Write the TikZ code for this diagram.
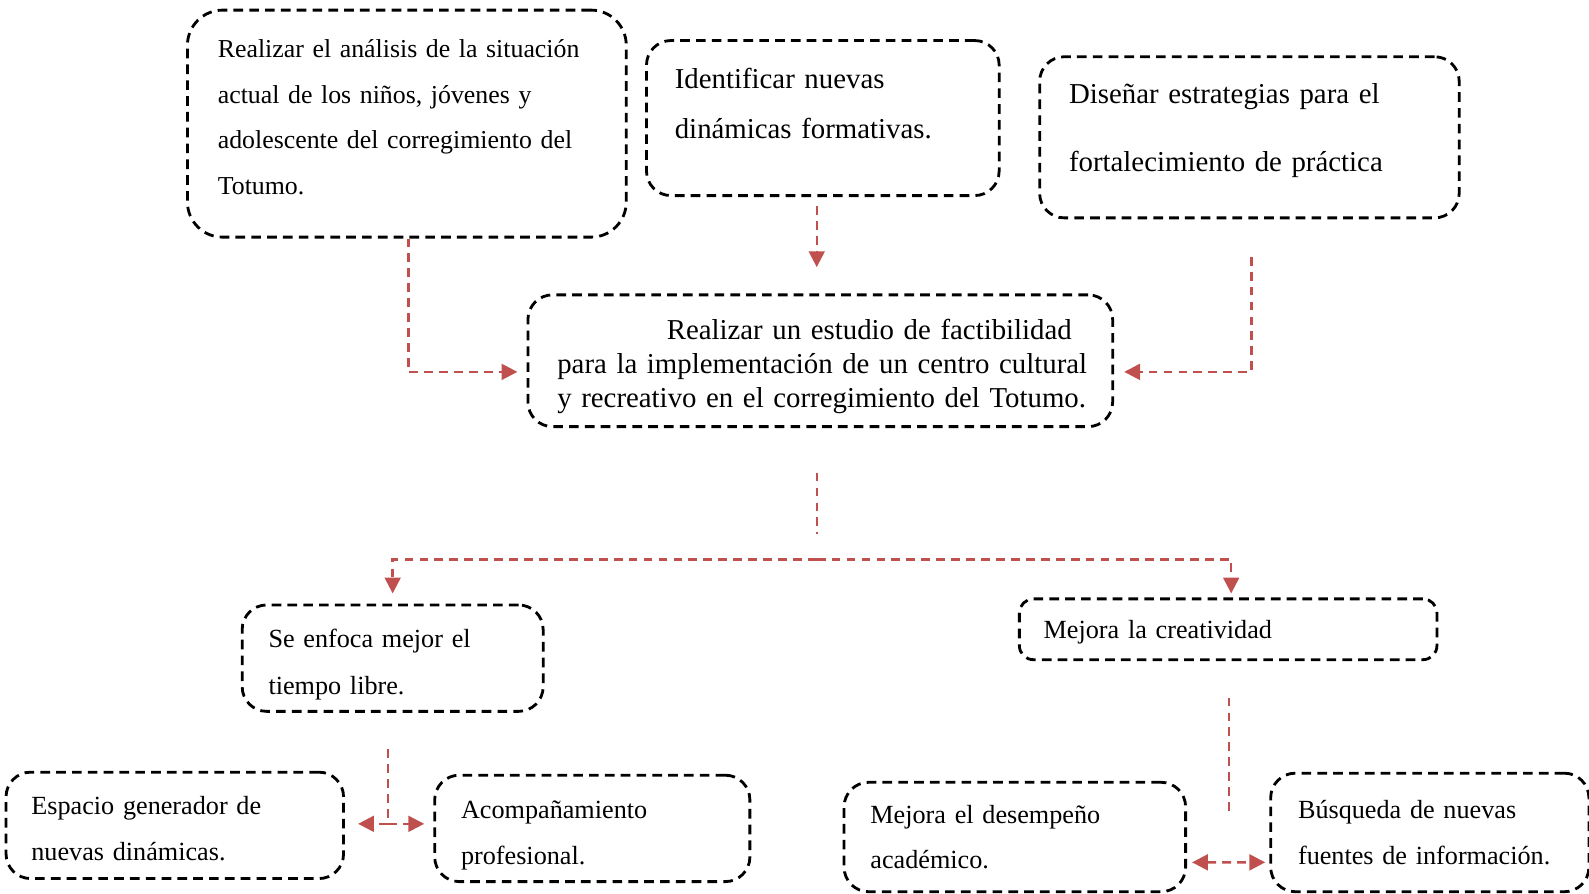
\documentclass[tikz,border=0pt]{standalone}
\usepackage{fontspec}
\setmainfont{Liberation Serif}
\usetikzlibrary{arrows.meta,calc}
\definecolor{rojo}{HTML}{C0504D}

\begin{document}
\begin{tikzpicture}[x=0.020266cm,y=-0.020266cm]
	\tikzstyle{caja}=[draw,line width=1.6pt,dash pattern=on 5.5pt off 3.5pt,rounded corners=14pt,align=left,inner ysep=0pt,font=\fontsize{14.9pt}{25.9pt}\selectfont]
	\tikzstyle{grande}=[font=\fontsize{16.4pt}{28.3pt}\selectfont]
	\tikzstyle{enlace}=[draw=rojo,line width=1.4pt,dash pattern=on 5pt off 3.5pt]
	\tikzstyle{punta}=[-{Triangle[length=9pt,width=9pt,fill=rojo]}]
	\useasboundingbox (0,0) rectangle (1568.1,881.3);
	
	% objetivos especificos
	\node [caja,font=\fontsize{14.7pt}{25.9pt}\selectfont,rounded corners=20pt,text width=7.559cm,inner xsep=0.608cm,minimum height=4.54cm] (analisis) at (401.5,122)
	{Realizar el análisis de la situación\\actual de los niños, jóvenes y\\adolescente del corregimiento del\\Totumo.\\[-18.4pt]\mbox{}};
	\node [caja,grande,text width=5.919cm,inner xsep=0.567cm,minimum height=3.101cm] (dinamicas) at (812,116.5)
	{Identificar nuevas\\dinámicas formativas.\\[-11.3pt]\mbox{}};
	\node [caja,font=\fontsize{16.4pt}{38.6pt}\selectfont,text width=7.214cm,inner xsep=0.588cm,minimum height=3.222cm] (estrategias) at (1233,135.5)
	{Diseñar estrategias para el\\fortalecimiento de práctica\\[-27.4pt]\mbox{}};
	
	% objetivo general
	\node [caja,font=\fontsize{16.4pt}{19.3pt}\selectfont,text width=11.145cm,inner xsep=0.274cm,minimum height=2.635cm] (estudio) at (809.5,356)
	{\rule{0pt}{17.6pt}\hspace*{2.503cm}Realizar un estudio de factibilidad\\\hspace*{0.314cm}para la implementación de un centro cultural\\\hspace*{0.314cm}y recreativo en el corregimiento del Totumo.};
	
	% resultados
	\node [caja,font=\fontsize{14.9pt}{26.5pt}\selectfont,text width=4.965cm,inner xsep=0.527cm,minimum height=2.128cm] (libre) at (387.5,649.5)
	{\rule{0pt}{17.9pt}Se enfoca mejor el\\tiempo libre.};
	\node [caja,rounded corners=8pt,text width=7.378cm,inner xsep=0.486cm,minimum height=1.216cm] (creatividad) at (1212,621)
	{\rule{0pt}{14.2pt}Mejora la creatividad};
	\node [caja,text width=5.735cm,inner xsep=0.507cm,minimum height=2.128cm] (espacio) at (172.5,814.5)
	{\rule{0pt}{14.3pt}Espacio generador de\\nuevas dinámicas.};
	\node [caja,text width=5.249cm,inner xsep=0.527cm,minimum height=2.128cm] (acompana) at (584.5,817.5)
	{\rule{0pt}{17.9pt}Acompañamiento\\profesional.};
	\node [caja,text width=5.776cm,inner xsep=0.527cm,minimum height=2.189cm] (desempeno) at (1001.5,826)
	{Mejora el desempeño\\académico.};
	\node [caja,text width=5.27cm,inner xsep=0.547cm,minimum height=2.371cm] (busqueda) at (1411,821.5)
	{Búsqueda de nuevas\\fuentes de información.};
	
	\coordinate (bifurca) at (806,552);
	\coordinate (unionI) at (383,813);
	
	% conexiones
	\draw [enlace,punta] ([shift={(1.5,0)}]analisis.south) |- ([shift={(-9,11)}]estudio.west);
	\draw [enlace,punta] ([shift={(-6,9)}]dinamicas.south) -- ([shift={(-3.5,-26)}]estudio.north);
	\draw [enlace,punta] ([shift={(2,37)}]estrategias.south) |- ([shift={(10,11)}]estudio.east);
	\draw [enlace] ([shift={(-3.5,44)}]estudio.south) -- ($(bifurca)+(0,-25)$);
	\draw [enlace,punta] (bifurca) -| ([shift={(0,-10)}]libre.north);
	\draw [enlace,punta] (bifurca) -| ([shift={(3,-4)}]creatividad.north);
	\draw [enlace] ([shift={(-4.5,36)}]libre.south) -- (unionI);
	\draw [enlace,punta] (unionI) -- ($(unionI -| espacio.east)+(13,0)$);
	\draw [enlace,punta] (unionI) -- ($(unionI -| acompana.west)+(-9,0)$);
	\draw [enlace] ([shift={(1,36)}]creatividad.south) -- ++(0,113);
	\draw [enlace,{Triangle[length=9pt,width=9pt,fill=rojo]}-{Triangle[length=9pt,width=9pt,fill=rojo]}] ($(desempeno.east)+(5,25)$) -- ($(busqueda.west)+(-4,29.5)$);
\end{tikzpicture}
\end{document}
